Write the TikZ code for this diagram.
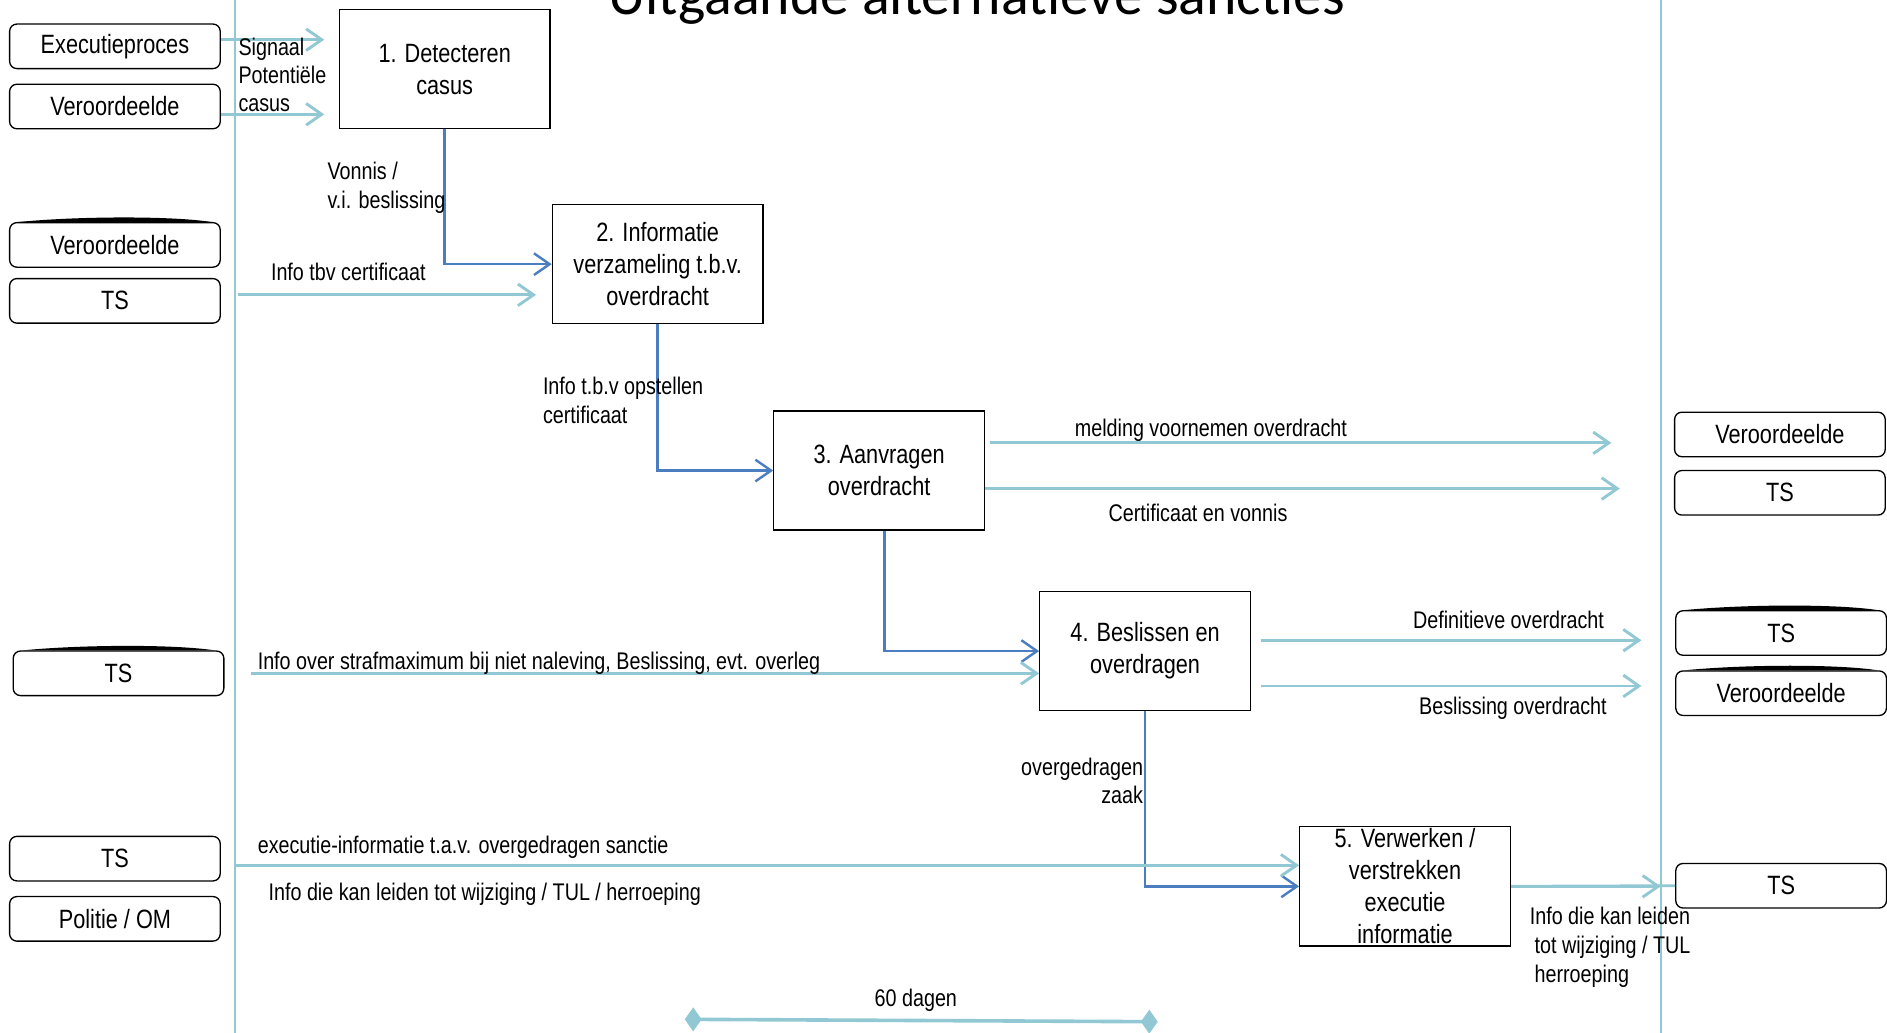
\documentclass[tikz,border=0pt]{standalone}
\usepackage{fontspec}
\setmainfont{Liberation Sans}[FakeStretch=0.82]
\newfontfamily\titlefont{Carlito}
\usetikzlibrary{arrows.meta}
\definecolor{laneblue}{RGB}{146,200,211}
\definecolor{stepblue}{RGB}{74,126,193}
\tikzset{
  actor/.style={draw, rounded corners=6pt, line width=1.1pt, minimum width=175pt,
    minimum height=37pt, inner sep=0pt, font=\fontsize{22}{26.5}\selectfont},
  procbox/.style={draw, line width=1.1pt, minimum width=175pt, minimum height=99pt,
    inner sep=0pt, align=center, font=\fontsize{22}{26.5}\selectfont},
  flow/.style={laneblue, line width=2.4pt, -{Straight Barb[length=13pt,width=18pt]}},
  flowline/.style={laneblue, line width=2.4pt},
  handover/.style={stepblue, line width=2pt, -{Straight Barb[length=13pt,width=18pt]}},
  lbl/.style={inner sep=0pt, anchor=base west, align=left, font=\fontsize{20}{24}\selectfont},
  lane/.style={laneblue, line width=1.8pt},
}
% black smudge on top of some actor boxes
\newcommand\topbulge[1]{%
  \fill ([xshift=8pt]#1.north west) .. controls ([xshift=60pt,yshift=5pt]#1.north west)
    and ([xshift=-40pt,yshift=5pt]#1.north east) .. ([xshift=-8pt]#1.north east) -- cycle;}

\begin{document}
\begin{tikzpicture}[x=1pt,y=-1pt]
  \useasboundingbox (0,0) rectangle (1568,858);

  % title (cut off at the top)
  \node[font=\titlefont\fontsize{48}{50}\selectfont, anchor=base, inner sep=0pt]
    (title) at (811.5,12) {Uitgaande alternatieve sancties};

  % lanes
  \coordinate (laneL) at (195,0);
  \coordinate (laneLb) at (195,858);
  \coordinate (laneR) at (1380,0);
  \coordinate (laneRb) at (1380,858);
  \draw[lane] (laneL) -- (laneLb);
  \draw[lane] (laneR) -- (laneRb);

  % actors left
  \node[actor] (exec) at (95.5,38.5) {Executieproces};
  \node[actor] (veroordA) at (95.5,88.5) {Veroordeelde};
  \node[actor] (veroordB) at (95.5,203.5) {Veroordeelde};
  \node[actor] (tsA) at (95.5,250) {TS};
  \node[actor] (tsB) at (98.5,559.5) {TS};
  \node[actor] (tsC) at (95.5,713.5) {TS};
  \node[actor] (politie) at (95.5,763.5) {Politie / OM};
  % actors right
  \node[actor] (veroordR1) at (1479,361) {Veroordeelde};
  \node[actor] (tsR1) at (1479,409.5) {TS};
  \node[actor] (tsR2) at (1480,526) {TS};
  \node[actor] (veroordR2) at (1480,576) {Veroordeelde};
  \node[actor] (tsR3) at (1480,736) {TS};
  \topbulge{veroordB}
  \topbulge{tsB}
  \topbulge{tsR2}
  \topbulge{veroordR2}

  % process steps
  \node[procbox] (p1) at (369.5,57.5) {1. Detecteren\\casus};
  \node[procbox] (p2) at (546.5,219.5) {2. Informatie\\verzameling t.b.v.\\overdracht};
  \node[procbox] (p3) at (730.5,391) {3. Aanvragen\\overdracht};
  \node[procbox] (p4) at (951.5,541) {4. Beslissen en\\overdragen};
  \node[procbox] (p5) at (1167.5,736.5) {5. Verwerken /\\verstrekken\\executie\\informatie};

  % steps handing over
  \draw[handover] (p1.south) |- (p2.west);
  \draw[handover] (p2.south) |- (p3.west);
  \draw[handover] ([xshift=4.5pt]p3.south) |- (p4.west);
  \draw[handover] (p4.south) |- (p5.west);
  \node[lbl] (l1) at (272,173) {Vonnis /\\v.i. beslissing};
  \node[lbl] (l2) at (451,352) {Info t.b.v opstellen\\certificaat};
  \node[lbl, anchor=base east, align=right] (l3) at (950,668) {overgedragen\\zaak};

  % incoming information
  \draw[flow, shorten >=12pt] ([yshift=5.5pt]exec.east) -- ([yshift=5.5pt]p1.west |- exec.east);
  \draw[flow, shorten >=12pt] ([yshift=-6.5pt]veroordA.east) -- ([yshift=-6.5pt]p1.west |- veroordA.east);
  \node[lbl] (sig) at (198,93) {Signaal\\[-0.5pt]Potentiële\\[-0.5pt]casus};
  \draw[flow, shorten >=13pt] ([xshift=3pt,yshift=5pt]laneL |- tsA.east) -- ([yshift=5pt]p2.west |- tsA.east);
  \node[lbl] (l4) at (225,233) {Info tbv certificaat};
  \draw[flow, shorten <=22pt] (tsB.east) -- (tsB.east -| p4.west);
  \node[lbl] (l5) at (214,556) {Info over strafmaximum bij niet naleving, Beslissing, evt. overleg};
  \draw[flow] ([yshift=17.5pt]laneL |- p5.west) -- ([yshift=17.5pt]p5.west);
  \node[lbl] (l6) at (214,709) {executie-informatie t.a.v. overgedragen sanctie};
  \node[lbl] (l7) at (223,748) {Info die kan leiden tot wijziging / TUL / herroeping};

  % outgoing information
  \draw[flow, shorten <=4pt, shorten >=52pt] ([yshift=23pt]p3.east) -- ([yshift=23pt]veroordR1.west |- p3.east);
  \node[lbl] (l8) at (893,363) {melding voornemen overdracht};
  \draw[flow, shorten >=45pt] ([yshift=-15pt]p3.east) -- ([yshift=-15pt]tsR1.west |- p3.east);
  \node[lbl] (l9) at (921,433) {Certificaat en vonnis};
  \draw[flow, shorten <=8pt, shorten >=28pt] ([yshift=9pt]p4.east) -- ([yshift=9pt]tsR2.west |- p4.east);
  \node[lbl] (l10) at (1174,522) {Definitieve overdracht};
  \draw[flow, shorten <=8pt, shorten >=28pt] ([yshift=-29pt]p4.east) -- ([yshift=-29pt]veroordR2.west |- p4.east);
  \node[lbl] (l11) at (1179,594) {Beslissing overdracht};
  \draw[flowline] (p5.east) -- (tsR3.west);
  \draw[flow] (p5.east) -- (p5.east -| laneR);
  \node[lbl] (l12) at (1271,816) {Info die kan leiden\\\hspace*{4pt}tot wijziging / TUL\\\hspace*{4pt}herroeping};

  % time span
  \coordinate (d0) at (569,847);
  \coordinate (d1) at (962,849);
  \draw[laneblue, line width=3pt, {Diamond[length=14pt,width=20pt]}-{Diamond[length=14pt,width=20pt]}] (d0) -- (d1);
  \node[lbl, anchor=base] (days) at (761,836) {60 dagen};
\end{tikzpicture}
\end{document}
